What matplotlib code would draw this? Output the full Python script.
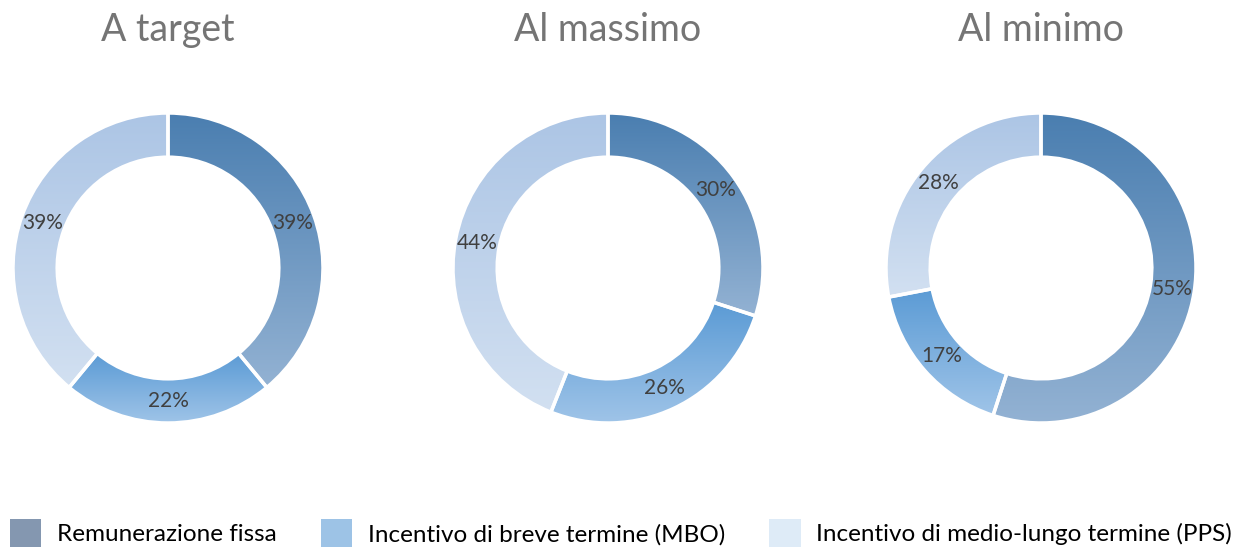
import numpy as np
import matplotlib.pyplot as plt
from matplotlib.colors import LinearSegmentedColormap
from matplotlib.patches import Patch

plt.rcParams['font.family'] = ['Lato', 'DejaVu Sans']

titoli = ["A target", "Al massimo", "Al minimo"]
componenti = ["Remunerazione fissa", "Incentivo di breve termine (MBO)",
              "Incentivo di medio-lungo termine (PPS)"]
a_target = [39, 22, 39]
al_massimo = [30, 26, 44]
al_minimo = [55, 17, 28]
valori = [a_target, al_massimo, al_minimo]

# gradienti verticali (alto -> basso) per ogni fetta
gradienti = [("#4A7EB0", "#93B2D3"),
             ("#5B9BD5", "#9FC4E8"),
             ("#ACC5E5", "#D2E0F1")]
colori_legenda = ["#8497B0", "#9DC3E6", "#DEEBF7"]

W, H = 1242, 550
fig = plt.figure(figsize=(W / 100, H / 100), dpi=100)

centri_x = [168, 608, 1041]
cy = 268
r = 155

for i in range(3):
    ax = fig.add_axes([(centri_x[i] - r) / W, 1 - (cy + r) / H, 2 * r / W, 2 * r / H])
    wedges, testi = ax.pie(valori[i], startangle=90, counterclock=False, radius=1,
                           wedgeprops=dict(width=0.285, edgecolor="white", linewidth=2.5,
                                           facecolor="none"))
    for w, (c1, c2) in zip(wedges, gradienti):
        cmap = LinearSegmentedColormap.from_list("g", [c1, c2])
        bb = w.get_path().get_extents(w.get_patch_transform())
        grad = np.linspace(0, 1, 256).reshape(-1, 1)
        im = ax.imshow(grad, cmap=cmap, aspect="auto",
                       extent=[bb.x0, bb.x1, bb.y0, bb.y1], origin="upper", zorder=0.5)
        im.set_clip_path(w)
        w.set_zorder(1)
    tot = sum(valori[i])
    start = 90
    for v in valori[i]:
        ang = np.deg2rad(start - v / tot * 180)
        ax.text(0.857 * np.cos(ang), 0.857 * np.sin(ang), f"{v}%", ha="center", va="center",
                fontsize=15, color="#404040", zorder=3)
        start -= v / tot * 360
    ax.set_xlim(-1, 1)
    ax.set_ylim(-1, 1)
    ax.set_aspect("equal")
    ax.axis("off")
    fig.text(centri_x[i] / W, 1 - 30 / H, titoli[i], ha="center", va="center",
             fontsize=27, color="#757575")

handles = [Patch(facecolor=c, edgecolor="none") for c in colori_legenda]
fig.legend(handles, componenti, loc="lower center", ncol=3, frameon=False,
           bbox_to_anchor=(0.5, -0.035), fontsize=17.5, handlelength=1.3, handleheight=1.4,
           columnspacing=1.8, handletextpad=0.65)

plt.savefig("out.png", dpi=100)
